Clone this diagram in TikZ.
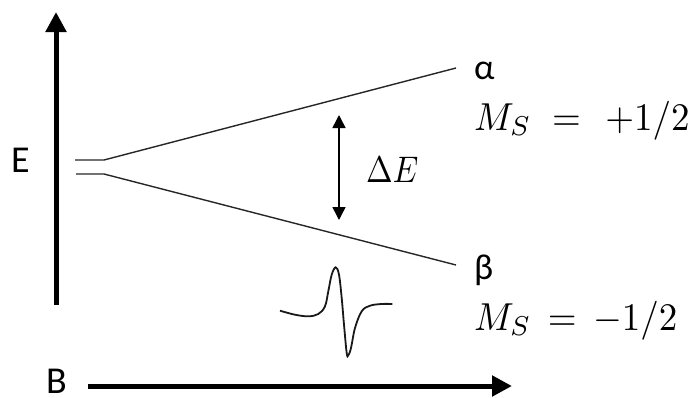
\documentclass[tikz,border=0pt]{standalone}
\usepackage{graphicx}
\usepackage{fontspec}
\setmainfont{Carlito}
\usetikzlibrary{arrows.meta}
\newcommand{\bigmath}[1]{\scalebox{3.7}[3.9]{$#1$}}
\tikzset{
  axis/.style={line width=5pt, -{Triangle[width=20pt,length=20pt]}},
  level/.style={line width=1.4pt, draw=black!85},
  gap/.style={line width=1.5pt, {Triangle[width=13pt,length=13pt]}-{Triangle[width=13pt,length=13pt]}},
  sig/.style={line width=1.8pt, draw=black!90},
  lab/.style={font=\fontsize{38}{42}\selectfont, inner sep=0pt, anchor=base},
  glab/.style={font=\fontsize{36}{40}\selectfont, inner sep=0pt, anchor=base west},
  mlab/.style={inner sep=0pt, anchor=base west}
}
\begin{document}
\begin{tikzpicture}[x=1pt,y=-1pt]
\useasboundingbox (0,0) rectangle (694,397);
% axes
\coordinate (ebot) at (56,305);
\coordinate (etop) at (56,12);
\draw[axis] (ebot) -- (etop);
\coordinate (bl) at (88,386);
\coordinate (br) at (512,386);
\draw[axis] (bl) -- (br);
\node[lab] (E) at (20.5,172) {E};
\node[lab] (B) at (56.5,393) {B};
% levels
\coordinate (u0) at (75,160);
\coordinate (u1) at (104,160);
\coordinate (u2) at (456,68);
\coordinate (l0) at (76,174);
\coordinate (l1) at (104,174);
\coordinate (l2) at (456,265);
\draw[level] (u0) -- (u1) -- (u2);
\draw[level] (l0) -- (l1) -- (l2);
% labels
\node[glab] (alpha) at (474,79) {α};
\node[mlab] (msp) at (474,130) {\bigmath{M_S\;=\mskip7mu+1/2}};
\node[glab] (beta) at (474,279) {β};
\node[mlab] (msm) at (474,330) {\bigmath{M_S\,=\,-1/2}};
% delta E
\coordinate (dt) at (339,115);
\coordinate (db) at (339,220);
\draw[gap] (dt) -- (db);
\node[mlab] (dE) at (366,182) {\scalebox{3.2}[3.7]{$\Delta E$}};
% ESR signal
\draw[sig] plot[smooth, tension=0.6] coordinates {
  (280,310.7) (295,314.7) (308.3,316.3) (318.3,314) (325,306.3)
  (328.3,291.3) (331.7,274.7) (335.7,267.3) (339,274.7) (341.7,298)
  (344,324.7) (346.7,353) (348.3,355.3) (351,348) (355,328)
  (361.7,311.3) (370,305.7) (381.7,304) (392.3,304)};
\end{tikzpicture}
\end{document}
